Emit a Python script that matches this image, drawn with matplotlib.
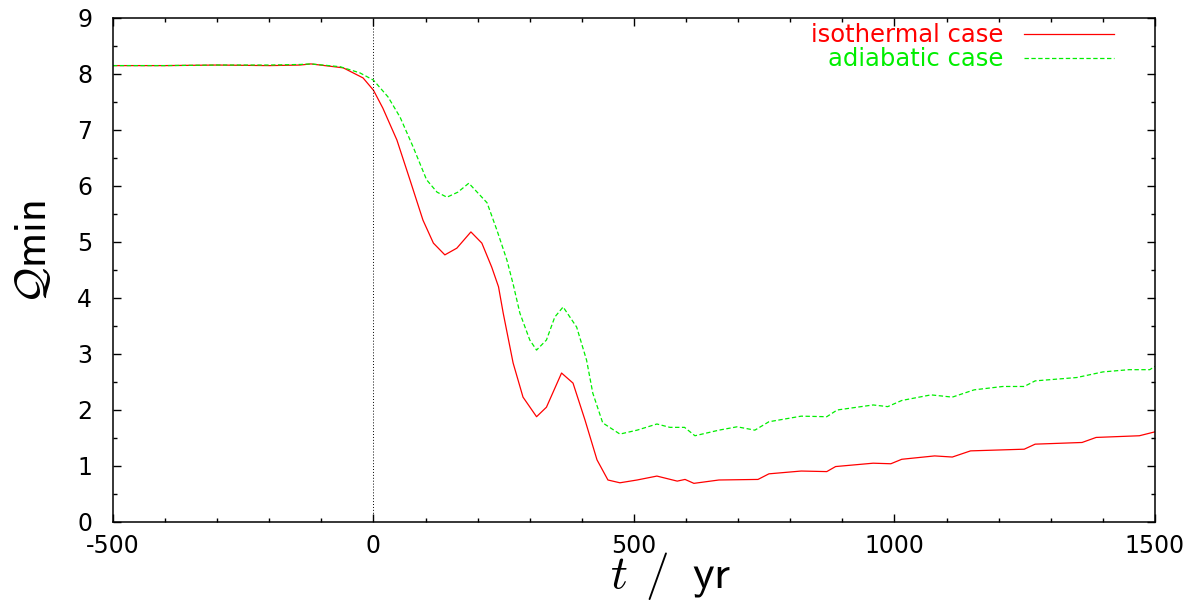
import matplotlib
matplotlib.use("Agg")
import matplotlib.pyplot as plt

# values (t in yr, Q_min)
t_iso = [-500, -400, -300, -200, -141, -120, -58, -20, 0, 18, 45, 70, 95, 115, 137, 160,
         187, 208, 227, 240, 249, 268, 287, 313, 332, 361, 383, 406, 429, 450, 473, 506,
         544, 583, 598, 615, 663, 738, 759, 821, 870, 887, 959, 993, 1014, 1077, 1111,
         1146, 1249, 1270, 1360, 1387, 1470, 1500]
q_iso = [8.15, 8.15, 8.16, 8.15, 8.16, 8.18, 8.11, 7.93, 7.71, 7.39, 6.82, 6.11, 5.39,
         4.98, 4.77, 4.89, 5.18, 4.98, 4.55, 4.2, 3.73, 2.84, 2.23, 1.88, 2.05, 2.66, 2.48,
         1.82, 1.11, 0.75, 0.70, 0.75, 0.82, 0.73, 0.76, 0.69, 0.75, 0.76, 0.86, 0.91,
         0.90, 0.99, 1.05, 1.04, 1.12, 1.18, 1.16, 1.27, 1.30, 1.39, 1.42, 1.51, 1.54, 1.61]

t_adi = [-500, -400, -300, -200, -141, -120, -64, -26, 0, 28, 51, 76, 102, 122, 141, 162,
         183, 218, 237, 256, 268, 281, 300, 313, 332, 348, 364, 390, 409, 421, 440, 473,
         506, 544, 569, 597, 617, 663, 698, 732, 759, 821, 870, 890, 959, 987, 1014, 1070,
         1111, 1153, 1208, 1249, 1270, 1350, 1400, 1450, 1490, 1500]
q_adi = [8.15, 8.15, 8.16, 8.16, 8.17, 8.18, 8.13, 8.02, 7.89, 7.59, 7.23, 6.70, 6.11,
         5.89, 5.80, 5.89, 6.05, 5.70, 5.21, 4.68, 4.25, 3.73, 3.25, 3.07, 3.25, 3.66, 3.84,
         3.48, 2.89, 2.30, 1.77, 1.57, 1.64, 1.75, 1.69, 1.69, 1.54, 1.64, 1.70, 1.64,
         1.79, 1.89, 1.88, 2.00, 2.09, 2.06, 2.17, 2.27, 2.23, 2.36, 2.42, 2.42, 2.52,
         2.58, 2.68, 2.72, 2.72, 2.78]

labels = ["isothermal case", "adiabatic case"]

plt.rcParams["font.family"] = ["DejaVu Sans"]
plt.rcParams["mathtext.fontset"] = "cm"
plt.rcParams["axes.unicode_minus"] = False

fig = plt.figure(figsize=(11.98, 6.02), dpi=100)
ax = fig.add_axes([0.0943, 0.1329, 0.8698, 0.8372])

ax.plot(t_iso, q_iso, color="#ff0000", lw=0.9, label=labels[0])
ax.plot(t_adi, q_adi, color="#00ee00", lw=0.9, dashes=(3.5, 2), label=labels[1])
ax.axvline(0, color="black", lw=0.7, ls=(0, (1, 2)))

ax.set_xlim(-500, 1500)
ax.set_ylim(0, 9)
ax.set_xticks(range(-500, 1501, 500))
ax.set_xticks(range(-500, 1501, 100), minor=True)
ax.set_yticks(range(0, 10))
ax.set_yticks([i * 0.5 for i in range(19)], minor=True)
ax.tick_params(which="both", direction="in", top=True, right=True, labelsize=17, width=1)
ax.tick_params(which="major", length=6)
ax.tick_params(which="minor", length=3)
ax.tick_params(axis="x", pad=9)
ax.tick_params(axis="y", pad=15)
for s in ax.spines.values():
    s.set_linewidth(1.1)

ax.set_xlabel(r"$t\;\,/\;\;\mathsf{yr}$", fontsize=34)
ax.xaxis.set_label_coords(0.535, -0.056)
ax.set_ylabel(r"$\mathcal{Q}\mathsf{min}$", fontsize=32)
ax.yaxis.set_label_coords(-0.056, 0.536)

ax.legend(loc="upper right", bbox_to_anchor=(0.9607, 0.99), frameon=False,
          markerfirst=False, labelcolor="linecolor", fontsize=17.5, handlelength=3.7,
          handletextpad=0.85, labelspacing=0.0, borderpad=0, borderaxespad=0)

fig.savefig("out.png", dpi=100)
